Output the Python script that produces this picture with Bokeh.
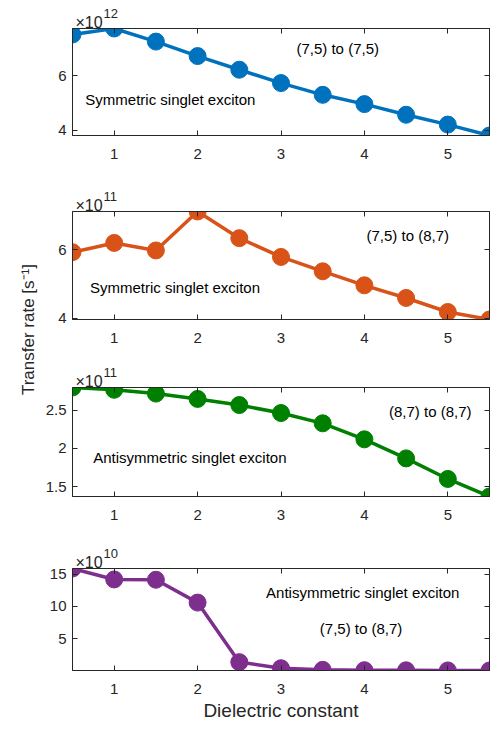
import numpy as np
from bokeh.plotting import figure
from bokeh.models import Range1d, FixedTicker, LinearAxis, Label
from bokeh.core.properties import value
from bokeh.layouts import row, column
from bokeh.embed import file_html
from bokeh.resources import INLINE

# ---------------- data ----------------
dielectric = [0.5, 1.0, 1.5, 2.0, 2.5, 3.0, 3.5, 4.0, 4.5, 5.0, 5.5]
x_ticks = [1, 2, 3, 4, 5]

# (7,5) -> (7,5), symmetric singlet exciton, units of 1e12 s^-1
rate_75_75_sym = [7.51, 7.73, 7.25, 6.72, 6.22, 5.73, 5.30, 4.96, 4.57, 4.21, 3.81]
# (7,5) -> (8,7), symmetric singlet exciton, units of 1e11 s^-1
rate_75_87_sym = [5.93, 6.20, 5.98, 7.12, 6.34, 5.79, 5.37, 4.96, 4.59, 4.18, 3.96]
# (8,7) -> (8,7), antisymmetric singlet exciton, units of 1e11 s^-1
rate_87_87_anti = [2.80, 2.77, 2.72, 2.65, 2.57, 2.465, 2.33, 2.12, 1.87, 1.60, 1.37]
# (7,5) -> (8,7), antisymmetric singlet exciton, units of 1e10 s^-1
rate_75_87_anti = [15.9, 14.2, 14.15, 10.6, 1.35, 0.40, 0.15, 0.10, 0.08, 0.06, 0.05]

y_ticks_1 = [4, 6]
y_ticks_2 = [4, 6]
y_ticks_3 = [1.5, 2, 2.5]
y_ticks_4 = [5, 10, 15]

exponents = [12, 11, 11, 10]
x_label = "Dielectric constant"
y_label = "Transfer rate [s\u207b\u00b9]"

FONT = "Liberation Sans"
AX = "#262626"
FRAME_W = 417
BORDER_L = 32
BORDER_R = 5


def style_axis(ax, ticks, show_labels):
    ax.ticker = FixedTicker(ticks=ticks)
    ax.major_tick_in = 5
    ax.major_tick_out = 0
    ax.minor_tick_line_color = None
    ax.axis_line_color = AX
    ax.major_tick_line_color = AX
    ax.major_label_text_font = FONT
    if show_labels:
        ax.major_label_overrides = {t: f"{t:g}" for t in ticks}
        ax.major_label_text_font_size = "15px"
        ax.major_label_text_color = AX
    else:
        ax.major_label_overrides = {t: "" for t in ticks}
        ax.major_label_text_font_size = "0px"
        ax.major_label_text_color = None
        ax.major_label_standoff = 0


def make_header(height, exponent):
    """Strip above a panel that carries the MATLAB-style exponent label."""
    h = figure(frame_width=FRAME_W, frame_height=height,
               x_range=Range1d(0, FRAME_W), y_range=Range1d(0, height),
               output_backend="svg", toolbar_location=None,
               min_border_left=BORDER_L, min_border_right=BORDER_R,
               min_border_top=0, min_border_bottom=0,
               x_axis_type=None, y_axis_type=None, outline_line_color=None,
               background_fill_color="white", border_fill_color="white")
    h.grid.visible = False
    h.text(x=[3], y=[6], text=["\u00d710"], text_font=value(FONT),
           text_font_size="16px", text_color=AX,
           text_align="left", text_baseline="alphabetic")
    h.text(x=[31], y=[15], text=[str(exponent)], text_font=value(FONT),
           text_font_size="13px", text_color=AX,
           text_align="left", text_baseline="alphabetic")
    return h


def make_panel(yvals, color, yticks, frame_h, border_bottom, notes, xlabel=None):
    p = figure(frame_width=FRAME_W, frame_height=frame_h,
               x_range=Range1d(0.5, 5.5), y_range=Range1d(min(yvals), max(yvals)),
               output_backend="svg", toolbar_location=None,
               min_border_left=BORDER_L, min_border_right=BORDER_R, min_border_top=0,
               min_border_bottom=border_bottom,
               background_fill_color="white", border_fill_color="white",
               outline_line_color=AX)
    p.grid.visible = False
    p.line(dielectric, yvals, line_color=color, line_width=3.5)
    p.scatter(dielectric, yvals, marker="circle", size=17,
              fill_color=color, line_color=color)

    bottom = p.below[0]
    left = p.left[0]
    style_axis(bottom, x_ticks, True)
    bottom.major_label_standoff = 13
    style_axis(left, yticks, True)
    left.major_label_standoff = 6
    top = LinearAxis()
    style_axis(top, x_ticks, False)
    p.add_layout(top, "above")
    right = LinearAxis()
    style_axis(right, yticks, False)
    p.add_layout(right, "right")

    if xlabel:
        bottom.axis_label = xlabel
        bottom.axis_label_text_font = FONT
        bottom.axis_label_text_font_size = "19px"
        bottom.axis_label_text_font_style = "normal"
        bottom.axis_label_text_color = AX
        bottom.axis_label_standoff = 3

    for txt, nx, ny in notes:
        p.add_layout(Label(x=nx, y=ny, text=txt, text_font=FONT,
                           text_font_size="15px", text_color="black",
                           text_align="center", text_baseline="middle"))
    return p


h1 = make_header(28, exponents[0])
p1 = make_panel(rate_75_75_sym, "#0072BD", y_ticks_1, 107, 42,
                [("(7,5) to (7,5)", 3.68, 7.0),
                 ("Symmetric singlet exciton", 1.673, 5.14)])
h2 = make_header(34, exponents[1])
p2 = make_panel(rate_75_87_sym, "#D95319", y_ticks_2, 108, 34,
                [("(7,5) to (8,7)", 4.52, 6.43),
                 ("Symmetric singlet exciton", 1.729, 4.905)])
h3 = make_header(34, exponents[2])
p3 = make_panel(rate_87_87_anti, "#008000", y_ticks_3, 109, 38,
                [("(8,7) to (8,7)", 4.79, 2.48),
                 ("Antisymmetric singlet exciton", 1.907, 1.877)])
h4 = make_header(34, exponents[3])
p4 = make_panel(rate_75_87_anti, "#7E2F8E", y_ticks_4, 102, 30,
                [("Antisymmetric singlet exciton", 3.98, 12.16),
                 ("(7,5) to (8,7)", 3.96, 6.5)], xlabel=x_label)

lab = figure(width=40, height=720, x_range=Range1d(0, 1), y_range=Range1d(0, 1),
             output_backend="svg", toolbar_location=None, min_border=0,
             x_axis_type=None, y_axis_type=None, outline_line_color=None,
             background_fill_color="white", border_fill_color="white")
lab.grid.visible = False
lab.add_layout(Label(x=0.69, y=0.543, text=y_label, angle=np.pi / 2,
                     text_font=FONT, text_font_size="17px", text_color=AX,
                     text_align="center", text_baseline="middle"))

layout = row(lab, column(h1, p1, h2, p2, h3, p3, h4, p4))

with open("out.html", "w") as f:
    f.write(file_html(layout, INLINE))
